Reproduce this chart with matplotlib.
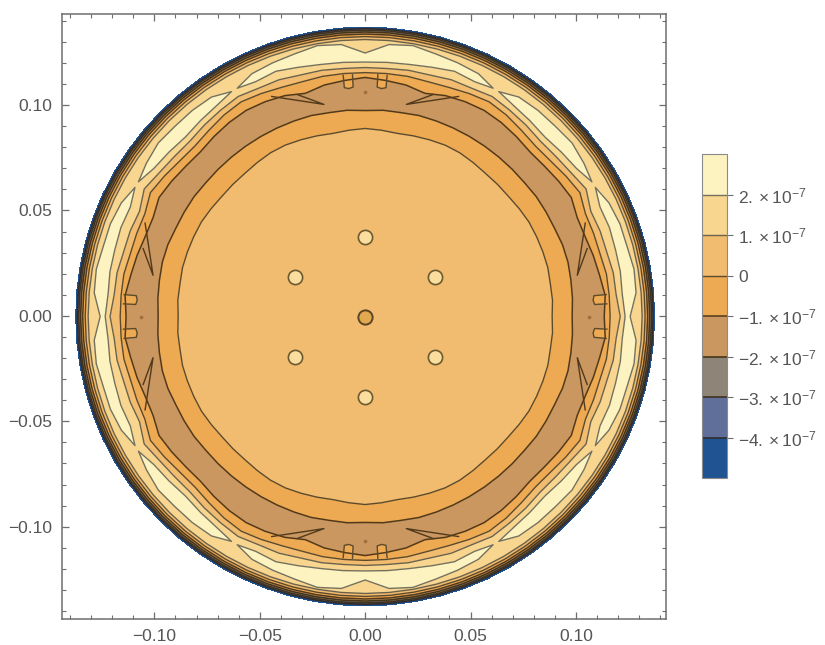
import matplotlib
matplotlib.use("Agg")
import matplotlib.pyplot as plt
import numpy as np

plt.rcParams['font.family'] = ['Liberation Sans', 'DejaVu Sans']
plt.rcParams['mathtext.default'] = 'regular'

# spokes of the first quadrant, degrees; the rest of the disc is mirrored
angles = np.arange(0, 95, 5)

# radius (x 1e-3) where each contour crosses the spoke
r_zero_in = [88.7, 89.2, 89.2, 89.7, 89.7, 89.7, 89.7, 89.2, 88.7, 88.7, 88.7, 89.2, 89.7, 89.7, 89.2, 88.7, 88.2, 88.7, 89.2]
r_neg1_in = [98.2, 98.7, 99.1, 99.6, 99.6, 99.1, 99.1, 99.1, 98.7, 98.7, 98.7, 98.7, 98.7, 98.7, 98.7, 98.7, 98.2, 98.2, 97.7]
r_neg1_out = [113.4, 114.3, 112.9, 112.0, 111.0, 111.0, 112.9, 112.0, 111.0, 110.5, 111.5, 112.4, 112.9, 112.4, 111.5, 109.6, 111.5, 112.4, 113.4]
r_zero_out = [116.2, 116.2, 116.2, 115.3, 115.3, 115.3, 117.6, 116.2, 114.8, 114.3, 115.3, 116.7, 117.6, 116.7, 115.7, 115.3, 115.7, 115.7, 115.7]
r_one_in = [121.0, 119.5, 119.5, 118.6, 118.6, 118.1, 121.0, 119.1, 118.1, 117.6, 118.6, 119.5, 120.5, 119.5, 119.5, 118.6, 118.6, 118.1, 118.1]
r_two_in = [123.3, 122.4, 122.9, 122.9, 123.3, 122.9, 124.8, 122.4, 121.4, 120.5, 121.4, 122.4, 123.3, 122.9, 123.8, 122.4, 121.4, 121.0, 120.7]
r_two_out = [125.7, 129.0, 129.5, 128.6, 128.6, 127.6, 125.7, 126.7, 128.1, 127.6, 127.6, 127.1, 124.8, 127.1, 128.1, 129.0, 130.5, 129.5, 125.0]
peak_z = [2.3, 2.6, 2.6, 2.6, 2.6, 2.6, 1.9, 2.6, 2.6, 2.6, 2.6, 2.6, 1.9, 2.6, 2.6, 2.6, 2.6, 2.6, 2.3]

# rim contours are practically circular: levels +1 ... -4 and the disc edge
rim_r = [131.4, 132.8, 134.0, 135.0, 135.9, 136.6, 137.3]
rim_z = [1, 0, -1, -2, -3, -4, -5]

plateau_z = 0.5
trough_z = -1.5

# small bumps in the plateau
bump_x = [0.0, -0.0332, 0.0332, -0.0332, 0.0332, 0.0]
bump_y = [0.0374, 0.0183, 0.0183, -0.0197, -0.0197, -0.0387]
centre_x = [0.0]
centre_y = [-0.0006]

# speck in the trough and the lobes / spikes on its outer edge, (radius x 1e-3, degrees)
speck_r = 106.3
lobe_r = [114.8, 109.0, 108.4, 109.0, 114.8]
lobe_deg = [3.0, 3.0, 4.1, 5.2, 5.2]
spike_r = [113.4, 102.5, 110.1]
spike_deg = [23.0, 11.0, 17.0]

levels = [-5, -4, -3, -2, -1, 0, 1, 2, 3]
fill_colors = ['#1F5392', '#5F6F9A', '#8E8478', '#C9975F', '#EDAA52', '#F2BC70', '#F8D68F', '#FCF3C0']
line_colors = ['#2f2c30', '#3f3220', '#46351a', '#52391b', '#5c4a2c', '#6a624c', '#74705c']
line_widths = [1.2, 1.2, 1.2, 1.1, 1.0, 1.0, 1.0]
tick_vals = [-4, -3, -2, -1, 0, 1, 2]
tick_text = [r'$-4.\,{\times}\,10^{-7}$', r'$-3.\,{\times}\,10^{-7}$', r'$-2.\,{\times}\,10^{-7}$', r'$-1.\,{\times}\,10^{-7}$',
             '0', r'$1.\,{\times}\,10^{-7}$', r'$2.\,{\times}\,10^{-7}$']
text_col = '#555555'
frame_col = '#6e6e6e'
y_shift = -0.0003


def mirror(a):
    # 0-90 degrees -> whole circle, same sequence reflected at 90, 180 and 270
    half = np.concatenate([a, a[-2::-1]])
    return np.concatenate([half, half[-2::-1]])


# rings of the polar mesh, from the centre to the edge
r0 = np.array(r_zero_in)
r1 = np.array(r_neg1_in)
r2 = np.array(r_neg1_out)
r3 = np.array(r_zero_out)
r4 = np.array(r_one_in)
r5 = np.array(r_two_in)
r6 = np.array(r_two_out)
pk = np.array(peak_z)
flat = np.ones(len(angles))
edge_z = np.minimum(2.0, pk)

rings = [0 * flat, 60 * flat, r0, r1, (r1 + r2) / 2, r2, r3, r4, r5, (r5 + r6) / 2, r6]
ring_z = [plateau_z * flat, plateau_z * flat, 0 * flat, -1 * flat, trough_z * flat, -1 * flat,
          0 * flat, 1 * flat, edge_z, pk, edge_z]
for r, z in zip(rim_r, rim_z):
    rings.append(r * flat)
    ring_z.append(z * flat)

theta = np.deg2rad(np.arange(0, 365, 5))
R = np.array([mirror(r) for r in rings]) * 1e-3
Z = np.array([mirror(z) for z in ring_z])
X = R * np.cos(theta)
Y = R * np.sin(theta) + y_shift

fig = plt.figure(figsize=(8.25, 6.45), dpi=100)
ax = fig.add_axes([62 / 825, 26 / 645, 604 / 825, 605 / 645])

cf = ax.contourf(X, Y, Z, levels=levels, colors=fill_colors)
cs = ax.contour(X, Y, Z, levels=levels[1:-1], colors=line_colors, linewidths=line_widths)


def polar_copies(r, deg):
    # four quadrant copies of a small shape, plus the copies reflected about 45 degrees
    r = np.array(r) * 1e-3
    deg = np.array(deg)
    out = []
    for d in [deg, 90 - deg]:
        for t in [d, 180 - d, 180 + d, 360 - d]:
            out.append((r * np.cos(np.deg2rad(t)), r * np.sin(np.deg2rad(t)) + y_shift))
    return out


for x, y in polar_copies(lobe_r, lobe_deg):
    ax.fill(x, y, facecolor='#EDAA52', edgecolor='none')
    ax.plot(x, y, color='#5c4a2c', linewidth=1.0)
for x, y in polar_copies(spike_r, spike_deg):
    ax.plot(x, y, color='#52391b', linewidth=1.0)
for x, y in polar_copies([speck_r], [0.0]):
    ax.scatter(x, y, s=6, color='#A0703F', linewidths=0)

ax.scatter(bump_x, bump_y, s=105, facecolor='#FBDD9E', edgecolor='#6b5a30', linewidths=1.2, zorder=3)
ax.scatter(centre_x, centre_y, s=105, facecolor='#E3A950', edgecolor='#5a4525', linewidths=1.4, zorder=3)

ax.set_xlim(-0.1438, 0.1427)
ax.set_ylim(-0.1438, 0.1432)
ax.set_xticks([-0.10, -0.05, 0.0, 0.05, 0.10])
ax.set_yticks([-0.10, -0.05, 0.0, 0.05, 0.10])
ax.set_xticklabels(['\u22120.10', '\u22120.05', '0.00', '0.05', '0.10'])
ax.set_yticklabels(['\u22120.10', '\u22120.05', '0.00', '0.05', '0.10'])
minor = [t / 100 for t in range(-14, 15) if t % 5 != 0]
ax.set_xticks(minor, minor=True)
ax.set_yticks(minor, minor=True)
ax.tick_params(which='major', direction='in', length=5, width=0.9, color=frame_col, top=True, right=True,
               labelsize=12.5, labelcolor=text_col, pad=7)
ax.tick_params(which='minor', direction='in', length=3, width=0.8, color=frame_col, top=True, right=True)
for s in ax.spines.values():
    s.set_color(frame_col)
    s.set_linewidth(1.1)

cax = fig.add_axes([702 / 825, 167 / 645, 25 / 825, 324 / 645])
cb = fig.colorbar(cf, cax=cax, ticks=tick_vals)
cb.add_lines(cs)
cb.set_ticklabels(tick_text)
cb.ax.tick_params(length=4, width=0.8, color=frame_col, labelsize=12.5, labelcolor=text_col, pad=4)
cb.outline.set_edgecolor('#8a8a8a')
cb.outline.set_linewidth(0.8)

plt.savefig('out.png', dpi=100)
